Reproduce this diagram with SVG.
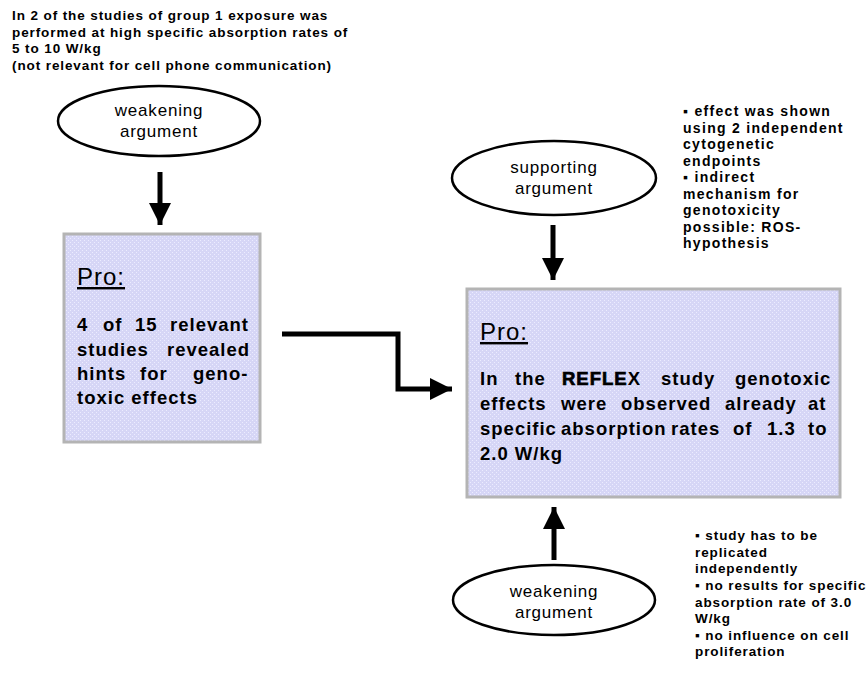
<svg xmlns="http://www.w3.org/2000/svg" width="868" height="675" viewBox="0 0 868 675">
<defs>
<pattern id="chk" width="4" height="4" patternUnits="userSpaceOnUse">
<rect width="4" height="4" fill="#d6d6f6"/>
<rect x="0" y="0" width="1" height="1" fill="#ececff"/>
<rect x="2" y="2" width="1" height="1" fill="#ececff"/>
</pattern>
<marker id="ah" viewBox="0 0 10 10" refX="10" refY="5" markerWidth="4.4" markerHeight="4.4" markerUnits="strokeWidth" orient="auto">
<path d="M0,0 L10,5 L0,10 Z" fill="#000"/>
</marker>
</defs>
<style>
.note{font-family:"Liberation Sans",Arial,sans-serif;font-size:13.5px;font-weight:bold;letter-spacing:0.9px;fill:#000}
.note2{font-family:"Liberation Sans",Arial,sans-serif;font-size:14px;font-weight:bold;letter-spacing:1.3px;fill:#000}
.ell{fill:#fff;stroke:#000;stroke-width:2.5}
.et{font-family:"Liberation Sans",Arial,sans-serif;font-size:17px;letter-spacing:0.8px;fill:#000;text-anchor:middle}
.box{fill:url(#chk);stroke:#b4b4b4;stroke-width:3}
.pro{font-family:"Liberation Sans",Arial,sans-serif;font-size:24px;letter-spacing:1px;text-decoration:underline;fill:#000}
.bt{font-family:"Liberation Sans",Arial,sans-serif;font-size:18.5px;font-weight:bold;letter-spacing:1px;fill:#000}
.hv{stroke:#000;stroke-width:0.7}
.con{fill:none;stroke:#000;stroke-width:5;marker-end:url(#ah)}
</style>

<g id="note-top">
<text class="note" x="12" y="20">In 2 of the studies of group 1 exposure was</text>
<text class="note" x="12" y="37">performed at high specific absorption rates of</text>
<text class="note" x="12" y="53">5 to 10 W/kg</text>
<text class="note" x="12" y="70">(not relevant for cell phone communication)</text>
</g>

<g id="weak1">
<ellipse class="ell" cx="159" cy="121" rx="101" ry="35"/>
<text class="et" x="159" y="116">weakening</text>
<text class="et" x="159" y="137">argument</text>
</g>

<g id="box1">
<rect class="box" x="64" y="234" width="196" height="208"/>
<text class="pro" x="77" y="285">Pro:</text>
<text class="bt" y="331"><tspan x="77">4</tspan> <tspan x="103">of</tspan> <tspan x="135">15</tspan> <tspan x="170">relevant</tspan></text>
<text class="bt" y="356"><tspan x="77">studies</tspan> <tspan x="167">revealed</tspan></text>
<text class="bt" y="380"><tspan x="77">hints</tspan> <tspan x="140">for</tspan> <tspan x="193">geno-</tspan></text>
<text class="bt" x="77" y="404">toxic effects</text>
</g>

<g id="support">
<ellipse class="ell" cx="554" cy="178" rx="102" ry="37"/>
<text class="et" x="554" y="173">supporting</text>
<text class="et" x="554" y="194">argument</text>
</g>

<g id="note-support">
<text class="note2" x="683" y="116">▪ effect was shown</text>
<text class="note2" x="683" y="133">using 2 independent</text>
<text class="note2" x="683" y="149">cytogenetic</text>
<text class="note2" x="683" y="166">endpoints</text>
<text class="note2" x="683" y="182">▪ indirect</text>
<text class="note2" x="683" y="199">mechanism for</text>
<text class="note2" x="683" y="215">genotoxicity</text>
<text class="note2" x="683" y="232">possible: ROS-</text>
<text class="note2" x="683" y="248">hypothesis</text>
</g>

<g id="box2">
<rect class="box" x="467" y="289" width="373" height="208"/>
<text class="pro" x="480" y="340">Pro:</text>
<text class="bt" y="385"><tspan x="480">In</tspan> <tspan x="515">the</tspan> <tspan x="562"><tspan class="hv">REFLE</tspan>X</tspan> <tspan x="661">study</tspan> <tspan x="735">genotoxic</tspan></text>
<text class="bt" y="410"><tspan x="480">effects</tspan> <tspan x="561">were</tspan> <tspan x="621">observed</tspan> <tspan x="725">already</tspan> <tspan x="808">at</tspan></text>
<text class="bt" y="435"><tspan x="480">specific</tspan> <tspan x="561">absorption</tspan> <tspan x="671">rates</tspan> <tspan x="733">of</tspan> <tspan x="767">1.3</tspan> <tspan x="808">to</tspan></text>
<text class="bt" x="480" y="460">2.0 W/kg</text>
</g>

<g id="weak2">
<ellipse class="ell" cx="554" cy="600" rx="101" ry="35"/>
<text class="et" x="554" y="597">weakening</text>
<text class="et" x="554" y="618">argument</text>
</g>

<g id="note-weak2">
<text class="note" x="695" y="540">▪ study has to be</text>
<text class="note" x="695" y="557">replicated</text>
<text class="note" x="695" y="573">independently</text>
<text class="note" x="695" y="590">▪ no results for specific</text>
<text class="note" x="695" y="607">absorption rate of 3.0</text>
<text class="note" x="695" y="623">W/kg</text>
<text class="note" x="695" y="640">▪ no influence on cell</text>
<text class="note" x="695" y="656">proliferation</text>
</g>

<g id="connectors">
<path class="con" d="M160,172 V225"/>
<path class="con" d="M553,225 V280"/>
<path class="con" d="M554,560 V507"/>
<path class="con" d="M282,334 H398 V389 H452" stroke-width="4.5"/>
</g>
</svg>
